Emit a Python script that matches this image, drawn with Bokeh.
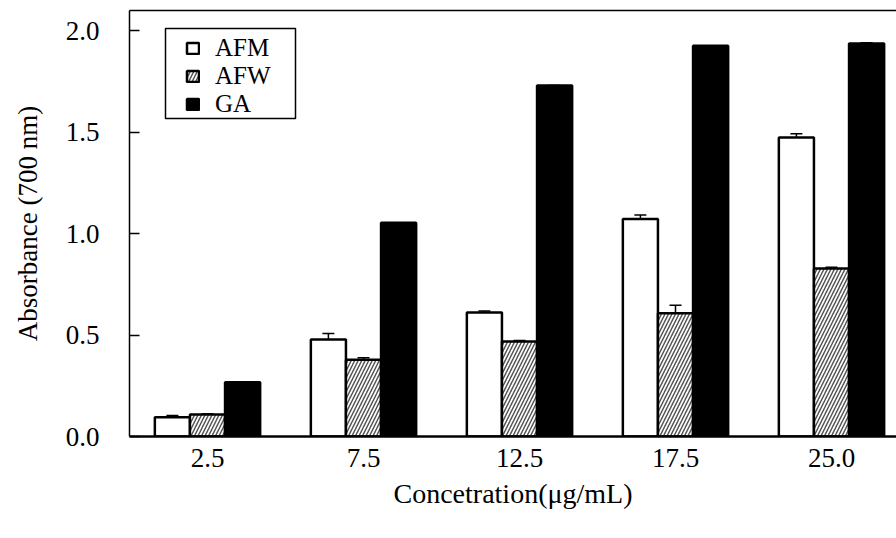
from bokeh.plotting import figure
from bokeh.models import (Range1d, FixedTicker, LinearAxis, Whisker, ColumnDataSource,
                          Legend, LegendItem, TeeHead, PrintfTickFormatter, BoxAnnotation)
from bokeh.embed import file_html
from bokeh.resources import INLINE

concentrations = ["2.5", "7.5", "12.5", "17.5", "25.0"]
afm = [0.095, 0.478, 0.611, 1.072, 1.474]
afm_err = [0.008, 0.030, 0.008, 0.020, 0.018]
afw = [0.108, 0.378, 0.468, 0.607, 0.828]
afw_err = [0.004, 0.010, 0.005, 0.040, 0.006]
ga = [0.267, 1.054, 1.730, 1.926, 1.937]
ga_err = [0.0, 0.0, 0.0, 0.0, 0.004]
y_ticks = [0.0, 0.5, 1.0, 1.5, 2.0]
series_names = ["AFM", "AFW", "GA"]

FONT = "Liberation Serif"
W, H = 896, 538
LEFT, TOP, BOTTOM = 129, 10, 102
FRAME_BOTTOM = H - BOTTOM
bar_w = 0.225

idx = list(range(len(concentrations)))

p = figure(width=W, height=H, output_backend="svg", toolbar_location=None,
           x_range=Range1d(-0.5, (W - LEFT) / 156.0 - 0.5), y_range=Range1d(0, 2.1),
           min_border_left=LEFT, min_border_top=TOP, min_border_bottom=BOTTOM,
           min_border_right=0, x_axis_type=None, y_axis_type=None)
p.grid.visible = False
p.outline_line_color = None
p.background_fill_color = "white"
p.border_fill_color = "white"

def make_src(vals, errs, off):
    xs = [i + off for i in idx]
    return ColumnDataSource(dict(x=xs, top=vals,
                                 upper=[v + e for v, e in zip(vals, errs)],
                                 lower=[v - e for v, e in zip(vals, errs)]))

s_afm = make_src(afm, afm_err, -bar_w)
s_afw = make_src(afw, afw_err, 0.0)
s_ga = make_src(ga, ga_err, bar_w)

r_afm = p.vbar(x="x", top="top", width=bar_w, source=s_afm, fill_color="white",
               line_color="black", line_width=2.5)
r_afw = p.vbar(x="x", top="top", width=bar_w, source=s_afw, fill_color="white",
               line_color="black", line_width=2.5, hatch_pattern="/",
               hatch_color="#555555", hatch_scale=7, hatch_weight=1.5)
r_ga = p.vbar(x="x", top="top", width=bar_w, source=s_ga, fill_color="black",
              line_color="black", line_width=2.5)

for src, low in ((s_afm, False), (s_afw, True), (s_ga, False)):
    w = Whisker(source=src, base="x", upper="upper", lower="lower",
                line_color="black", line_width=1.5,
                upper_head=TeeHead(size=12, line_width=1.5, line_color="black"),
                lower_head=TeeHead(size=12, line_width=1.5, line_color="black") if low else None)
    p.add_layout(w)

def style_axis(ax, size="27px"):
    ax.minor_tick_in = 0
    ax.minor_tick_out = 0
    ax.axis_line_color = "black"
    ax.major_tick_line_color = "black"
    ax.major_label_text_color = "black"
    ax.axis_label_text_color = "black"
    ax.major_label_text_font = FONT
    ax.major_label_text_font_size = size
    ax.axis_label_text_font = FONT
    ax.axis_label_text_font_size = size
    ax.axis_label_text_font_style = "normal"

yax = LinearAxis(ticker=FixedTicker(ticks=y_ticks), formatter=PrintfTickFormatter(format="%.1f"),
                 axis_label="Absorbance (700 nm)")
style_axis(yax)
yax.major_tick_in = 10
yax.major_tick_out = 0
yax.axis_line_width = 1.5
yax.major_tick_line_width = 1.5
yax.major_label_standoff = 30
yax.axis_label_standoff = 20
p.add_layout(yax, "left")

xax = LinearAxis(ticker=FixedTicker(ticks=idx), axis_label="Concetration(\u03bcg/mL)")
style_axis(xax)
xax.axis_label_text_font_size = "28px"
xax.major_label_overrides = {i: c for i, c in zip(idx, concentrations)}
xax.major_tick_in = 0
xax.major_tick_out = 0
xax.axis_line_width = 2.5
xax.major_label_standoff = 12
xax.axis_label_standoff = 8
p.add_layout(xax, "below")

top_ax = LinearAxis(ticker=FixedTicker(ticks=[]), major_label_text_font_size="0px")
top_ax.major_tick_in = 0
top_ax.major_tick_out = 0
top_ax.minor_tick_in = 0
top_ax.minor_tick_out = 0
top_ax.major_label_standoff = 0
top_ax.axis_line_width = 1.5
top_ax.axis_line_color = "black"
p.add_layout(top_ax, "above")

# legend frame (screen units relative to the plot frame)
box = BoxAnnotation(left=36, right=166, top=408, bottom=318,
                    left_units="screen", right_units="screen",
                    top_units="screen", bottom_units="screen",
                    fill_color="white", fill_alpha=1.0,
                    line_color="black", line_width=1.5, line_alpha=1.0)
p.add_layout(box)

# one legend entry per row so the row pitch matches the reference
row_h = 28
row_centers = [48, 76, 104]
for name, rend, c in zip(series_names, (r_afm, r_afw, r_ga), row_centers):
    lg = Legend(items=[LegendItem(label=name, renderers=[rend])],
                location=(56, FRAME_BOTTOM - (c + row_h / 2)))
    lg.border_line_color = None
    lg.background_fill_alpha = 0.0
    lg.padding = 0
    lg.spacing = 0
    lg.margin = 0
    lg.glyph_width = 15
    lg.glyph_height = 14
    lg.label_standoff = 15
    lg.label_text_font = FONT
    lg.label_text_font_size = "25px"
    lg.label_text_color = "black"
    lg.label_text_line_height = 0.7
    lg.label_height = 14
    p.add_layout(lg)

open("out.html", "w").write(file_html(p, INLINE))
